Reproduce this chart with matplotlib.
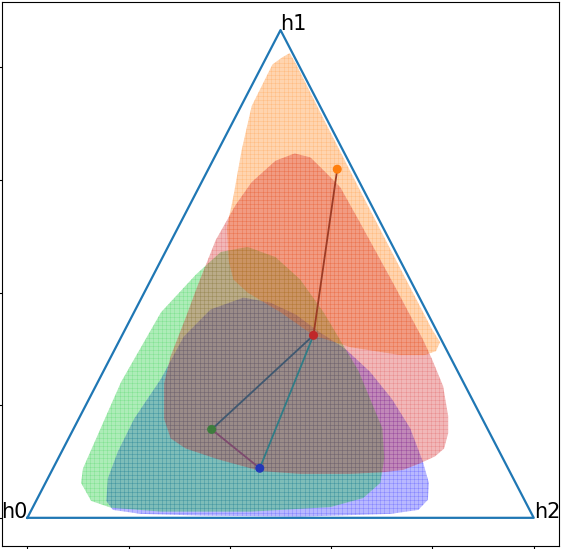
import numpy as np
import matplotlib
matplotlib.use('Agg')
import matplotlib.pyplot as plt
from matplotlib.patches import Polygon

# simplex corners
corner_x = [0.0, 0.5, 1.0]
corner_y = [0.0, np.sqrt(3) / 2, 0.0]
corner_labels = ['h0', 'h1', 'h2']

# outlines of the regions (data coords)
blue_region = [
    (0.159, 0.070), (0.179, 0.118), (0.211, 0.176), (0.264, 0.247), (0.309, 0.322),
    (0.362, 0.370), (0.427, 0.391), (0.480, 0.382), (0.530, 0.361), (0.575, 0.331),
    (0.628, 0.300), (0.677, 0.259), (0.720, 0.211), (0.756, 0.159), (0.781, 0.100),
    (0.793, 0.062), (0.791, 0.032), (0.772, 0.014), (0.717, 0.007), (0.539, 0.002),
    (0.343, 0.004), (0.224, 0.007), (0.169, 0.014), (0.156, 0.030),
]
green_region = [
    (0.106, 0.062), (0.126, 0.030), (0.165, 0.018), (0.264, 0.011), (0.441, 0.011),
    (0.598, 0.019), (0.663, 0.035), (0.697, 0.062), (0.705, 0.106), (0.701, 0.159),
    (0.677, 0.211), (0.654, 0.261), (0.628, 0.300), (0.585, 0.365), (0.539, 0.423),
    (0.490, 0.463), (0.435, 0.481), (0.382, 0.472), (0.333, 0.432), (0.264, 0.365),
    (0.185, 0.241), (0.136, 0.141), (0.110, 0.088),
]
red_region = [
    (0.528, 0.647), (0.559, 0.640), (0.585, 0.617), (0.618, 0.587), (0.654, 0.529),
    (0.724, 0.414), (0.781, 0.317), (0.799, 0.282), (0.821, 0.234), (0.831, 0.181),
    (0.831, 0.150), (0.823, 0.123), (0.805, 0.109), (0.776, 0.097), (0.742, 0.085),
    (0.703, 0.081), (0.638, 0.078), (0.539, 0.078), (0.461, 0.083), (0.376, 0.104),
    (0.313, 0.123), (0.283, 0.141), (0.270, 0.176), (0.270, 0.238), (0.283, 0.287),
    (0.313, 0.356), (0.337, 0.414), (0.372, 0.493), (0.411, 0.555), (0.443, 0.596),
    (0.490, 0.634),
]
orange_region = [
    (0.504, 0.818), (0.518, 0.825), (0.530, 0.807), (0.587, 0.705), (0.667, 0.564),
    (0.748, 0.423), (0.799, 0.335), (0.815, 0.312), (0.807, 0.296), (0.785, 0.289),
    (0.736, 0.289), (0.638, 0.303), (0.565, 0.324), (0.500, 0.365), (0.435, 0.400),
    (0.407, 0.423), (0.398, 0.455), (0.394, 0.515), (0.407, 0.571), (0.423, 0.652),
    (0.443, 0.731), (0.484, 0.805),
]
regions = [blue_region, green_region, orange_region, red_region]
region_colors = ['#0000ff', '#10c830', '#ff7f0e', '#d62728']
region_alpha = [0.28, 0.34, 0.33, 0.33]

# points (orange, red, green, blue) and the links between them
point_x = [0.612, 0.565, 0.364, 0.459]
point_y = [0.619, 0.324, 0.157, 0.088]
point_colors = ['#ff7f0e', '#c0282a', '#3d7d3d', '#2238b8']
links = [(0, 1), (1, 2), (1, 3), (2, 3)]
link_colors = ['#9c3b25', '#3f5870', '#2f7c86', '#7d4a6e']


def draw():
    fig = plt.figure(figsize=(5.61, 5.49), dpi=100)
    ax = fig.add_axes([0.0036, 0.0055, 0.9929, 0.991])

    # soft fill plus a faint mesh inside each outline
    mesh_x = np.arange(-0.05, 1.05, 0.0083)
    mesh_y = np.arange(-0.05, 0.92, 0.0074)
    for outline, col, al in zip(regions, region_colors, region_alpha):
        poly = Polygon(outline, closed=True, facecolor=col, edgecolor='none',
                       alpha=al)
        ax.add_patch(poly)
        vl = ax.vlines(mesh_x, -0.05, 0.92, colors=col, alpha=0.14, lw=0.7)
        hl = ax.hlines(mesh_y, -0.05, 1.05, colors=col, alpha=0.14, lw=0.7)
        vl.set_clip_path(poly)
        hl.set_clip_path(poly)

    tx = corner_x + [corner_x[0]]
    ty = corner_y + [corner_y[0]]
    ax.plot(tx, ty, color='C0', lw=1.6)

    for (a, b), col in zip(links, link_colors):
        ax.plot([point_x[a], point_x[b]], [point_y[a], point_y[b]],
                color=col, lw=1.3)
    ax.scatter(point_x, point_y, color=point_colors, s=30, zorder=5)

    ax.text(corner_x[0], corner_y[0], corner_labels[0], fontsize=15,
            ha='right', va='baseline')
    ax.text(corner_x[1], corner_y[1], corner_labels[1], fontsize=15,
            ha='left', va='baseline')
    ax.text(corner_x[2], corner_y[2], corner_labels[2], fontsize=15,
            ha='left', va='baseline')

    ax.set_xlim(-0.05, 1.05)
    ax.set_ylim(-0.05, np.sqrt(3) / 2 + 0.05)
    ax.set_xticks([0, 0.2, 0.4, 0.6, 0.8, 1.0])
    ax.set_yticks([0, 0.2, 0.4, 0.6, 0.8])
    ax.set_xticklabels([])
    ax.set_yticklabels([])
    fig.savefig('out.png', dpi=100)


if __name__ == '__main__':
    draw()
